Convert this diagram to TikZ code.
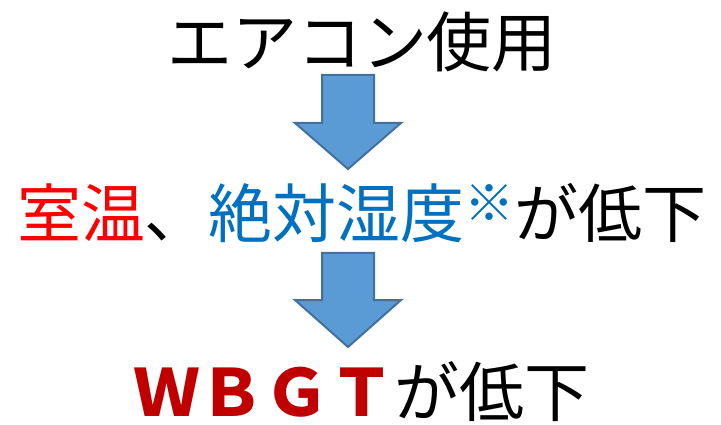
\documentclass[tikz,border=0pt]{standalone}
\usepackage{fontspec}
\setmainfont{Noto Sans CJK JP}
\definecolor{tred}{HTML}{FF0000}
\definecolor{tblue}{HTML}{0070C0}
\definecolor{tdark}{HTML}{C00000}
\definecolor{arrowfill}{HTML}{5B9BD5}
\definecolor{arrowline}{HTML}{41719C}
\begin{document}
\begin{tikzpicture}[x=1pt,y=-1pt,
  txt/.style={inner sep=0pt, anchor=base, font=\fontsize{65}{70}\selectfont},
  blockarrow/.style={fill=arrowfill, draw=arrowline, line width=2pt, line join=miter}]
\path[use as bounding box] (0,0) rectangle (721,425);
\node[txt] (top) at (362,67) {エアコン使用};
\node[txt, font=\fontsize{64}{70}\selectfont] (mid) at (362,238) {\textcolor{tred}{室温}、\textcolor{tblue}{絶対湿度\raisebox{17pt}{\fontsize{50}{50}\selectfont ※}}が低下};
\node[txt] (bot) at (362,416) {\textcolor{tdark}{\bfseries ＷＢＧＴ}が低下};
\draw[blockarrow] (322,75) -- (374,75) -- (374,123) -- (401,123) -- (348,169) -- (295,123) -- (322,123) -- cycle;
\draw[blockarrow] (322,253) -- (374,253) -- (374,300) -- (401,300) -- (348,347) -- (295,300) -- (322,300) -- cycle;
\end{tikzpicture}
\end{document}
